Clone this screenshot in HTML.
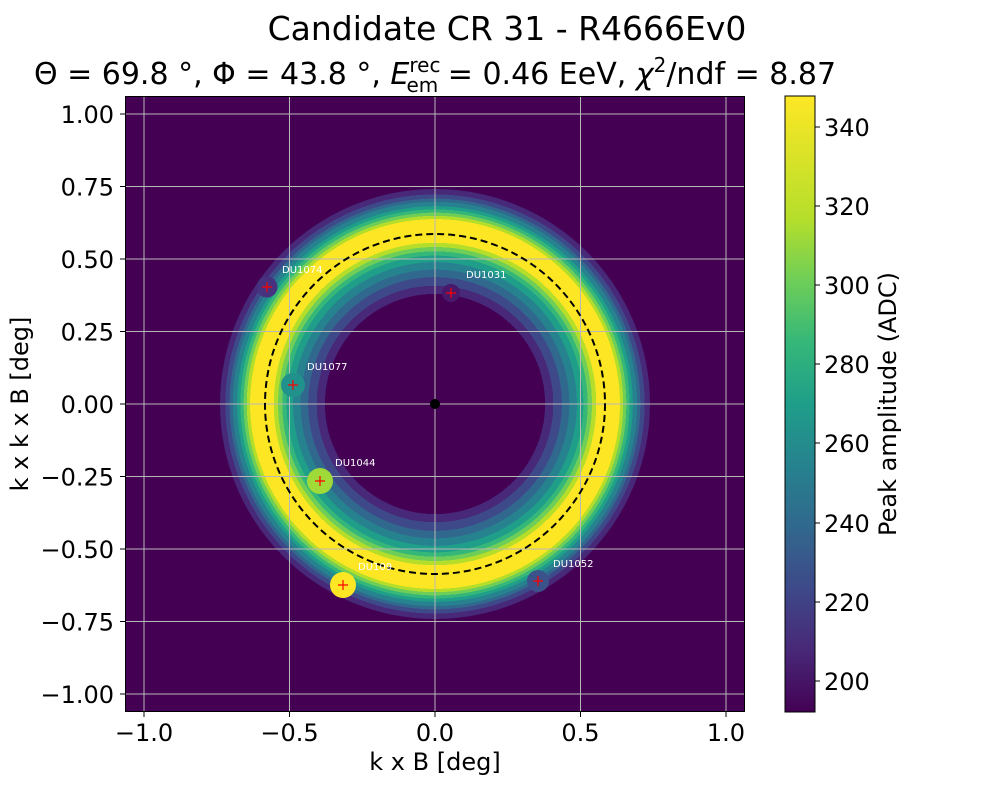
<!DOCTYPE html><html><head><style>body{margin:0;background:#fff}svg text{font-family:"DejaVu Sans","Liberation Sans",sans-serif}</style></head><body>
<svg width="1000" height="800" xmlns="http://www.w3.org/2000/svg">
<defs>
<radialGradient id="rg" cx="435" cy="404" r="215" gradientUnits="userSpaceOnUse">
<stop offset="0.512" stop-color="#440154"/><stop offset="0.512" stop-color="#482878"/>
<stop offset="0.55" stop-color="#482878"/><stop offset="0.55" stop-color="#3e4989"/>
<stop offset="0.59" stop-color="#3e4989"/><stop offset="0.59" stop-color="#31688e"/>
<stop offset="0.625" stop-color="#31688e"/><stop offset="0.625" stop-color="#26828e"/>
<stop offset="0.66" stop-color="#26828e"/><stop offset="0.66" stop-color="#1f9e89"/>
<stop offset="0.69" stop-color="#1f9e89"/><stop offset="0.69" stop-color="#35b779"/>
<stop offset="0.71" stop-color="#35b779"/><stop offset="0.71" stop-color="#6ece58"/>
<stop offset="0.73" stop-color="#6ece58"/><stop offset="0.73" stop-color="#b5de2b"/>
<stop offset="0.75" stop-color="#b5de2b"/><stop offset="0.75" stop-color="#fde725"/>
<stop offset="0.86" stop-color="#fde725"/><stop offset="0.86" stop-color="#b5de2b"/>
<stop offset="0.875" stop-color="#b5de2b"/><stop offset="0.875" stop-color="#6ece58"/>
<stop offset="0.89" stop-color="#6ece58"/><stop offset="0.89" stop-color="#35b779"/>
<stop offset="0.905" stop-color="#35b779"/><stop offset="0.905" stop-color="#1f9e89"/>
<stop offset="0.92" stop-color="#1f9e89"/><stop offset="0.92" stop-color="#26828e"/>
<stop offset="0.94" stop-color="#26828e"/><stop offset="0.94" stop-color="#31688e"/>
<stop offset="0.955" stop-color="#31688e"/><stop offset="0.955" stop-color="#3e4989"/>
<stop offset="0.975" stop-color="#3e4989"/><stop offset="0.975" stop-color="#482878"/>
<stop offset="1" stop-color="#482878"/>
</radialGradient>
<linearGradient id="cb" x1="0" y1="1" x2="0" y2="0">
<stop offset="0" stop-color="#440154"/><stop offset="0.1" stop-color="#482878"/><stop offset="0.2" stop-color="#3e4989"/><stop offset="0.3" stop-color="#31688e"/><stop offset="0.4" stop-color="#26828e"/><stop offset="0.5" stop-color="#1f9e89"/><stop offset="0.6" stop-color="#35b779"/><stop offset="0.7" stop-color="#6ece58"/><stop offset="0.8" stop-color="#b5de2b"/><stop offset="1" stop-color="#fde725"/>
</linearGradient>
<clipPath id="cp"><rect x="125" y="96" width="620" height="616"/></clipPath>
</defs>
<text x="507" y="40" font-size="33" text-anchor="middle">Candidate CR 31 - R4666Ev0</text>
<text x="435" y="84" font-size="30" text-anchor="middle">Θ = 69.8 °, Φ = 43.8 °, <tspan font-style="italic">E</tspan><tspan font-size="20" dy="-12">rec</tspan><tspan font-size="20" dx="-34" dy="20">em</tspan><tspan dy="-8"> = 0.46 EeV, </tspan><tspan font-style="italic">χ</tspan><tspan font-size="20" dy="-12">2</tspan><tspan dy="12">/ndf = 8.87</tspan></text>
<g clip-path="url(#cp)">
<rect x="125" y="96" width="620" height="616" fill="#440154"/>
<circle cx="435" cy="404" r="215" fill="url(#rg)"/>
<g stroke="#b8b8b8" stroke-width="1">
<line x1="144" y1="96" x2="144" y2="712"/><line x1="289.5" y1="96" x2="289.5" y2="712"/><line x1="435" y1="96" x2="435" y2="712"/><line x1="580.5" y1="96" x2="580.5" y2="712"/><line x1="726" y1="96" x2="726" y2="712"/>
<line x1="125" y1="114" x2="745" y2="114"/><line x1="125" y1="186.5" x2="745" y2="186.5"/><line x1="125" y1="259" x2="745" y2="259"/><line x1="125" y1="331.5" x2="745" y2="331.5"/><line x1="125" y1="404" x2="745" y2="404"/><line x1="125" y1="476.5" x2="745" y2="476.5"/><line x1="125" y1="549" x2="745" y2="549"/><line x1="125" y1="621.5" x2="745" y2="621.5"/><line x1="125" y1="694" x2="745" y2="694"/>
</g>
<circle cx="435" cy="404" r="170" fill="none" stroke="#000" stroke-width="2" stroke-dasharray="7,4"/>
<circle cx="435" cy="404" r="5" fill="#000"/>
<circle cx="267" cy="287" r="10.5" fill="#46327e"/><circle cx="451" cy="293" r="9" fill="#48186a"/><circle cx="293" cy="385" r="12" fill="#21918c"/><circle cx="320" cy="481" r="13" fill="#a0da39"/><circle cx="343" cy="585" r="13" fill="#fde725"/><circle cx="538" cy="581" r="11" fill="#3b528b"/>
<g stroke="red" stroke-width="1.2">
<path d="M262 287h10M267 282v10M446 293h10M451 288v10M288 385h10M293 380v10M315 481h10M320 476v10M338 585h10M343 580v10M533 581h10M538 576v10"/>
</g>
<g fill="#fff" font-size="10">
<text x="282" y="273">DU1074</text><text x="466" y="278">DU1031</text><text x="307" y="370">DU1077</text><text x="335" y="466">DU1044</text><text x="358" y="570">DU109</text><text x="553" y="567">DU1052</text>
</g>
</g>
<rect x="125.5" y="96.5" width="619" height="615" fill="none" stroke="#000"/>
<g font-size="24" text-anchor="end">
<text x="114" y="123">1.00</text><text x="114" y="195.5">0.75</text><text x="114" y="268">0.50</text><text x="114" y="340.5">0.25</text><text x="114" y="413">0.00</text><text x="114" y="485.5">−0.25</text><text x="114" y="558">−0.50</text><text x="114" y="630.5">−0.75</text><text x="114" y="703">−1.00</text>
</g>
<g stroke="#000"><path d="M120 114h5M120 186.5h5M120 259h5M120 331.5h5M120 404h5M120 476.5h5M120 549h5M120 621.5h5M120 694h5M144 712v5M289.5 712v5M435 712v5M580.5 712v5M726 712v5"/></g>
<g font-size="24" text-anchor="middle">
<text x="144" y="741">−1.0</text><text x="289.5" y="741">−0.5</text><text x="435" y="741">0.0</text><text x="580.5" y="741">0.5</text><text x="726" y="741">1.0</text>
</g>
<text x="435" y="770" font-size="24" text-anchor="middle">k x B [deg]</text>
<text transform="translate(28,404) rotate(-90)" font-size="24" text-anchor="middle">k x k x B [deg]</text>
<rect x="785" y="96" width="30" height="616" fill="url(#cb)" stroke="#000"/>
<g stroke="#000"><path d="M815 127h5M815 206h5M815 285h5M815 364h5M815 443h5M815 523h5M815 602h5M815 681h5"/></g>
<g font-size="24">
<text x="824" y="136">340</text><text x="824" y="215">320</text><text x="824" y="294">300</text><text x="824" y="373">280</text><text x="824" y="452">260</text><text x="824" y="532">240</text><text x="824" y="611">220</text><text x="824" y="690">200</text>
</g>
<text transform="translate(896,404) rotate(-90)" font-size="24" text-anchor="middle">Peak amplitude (ADC)</text>
</svg></body></html>
